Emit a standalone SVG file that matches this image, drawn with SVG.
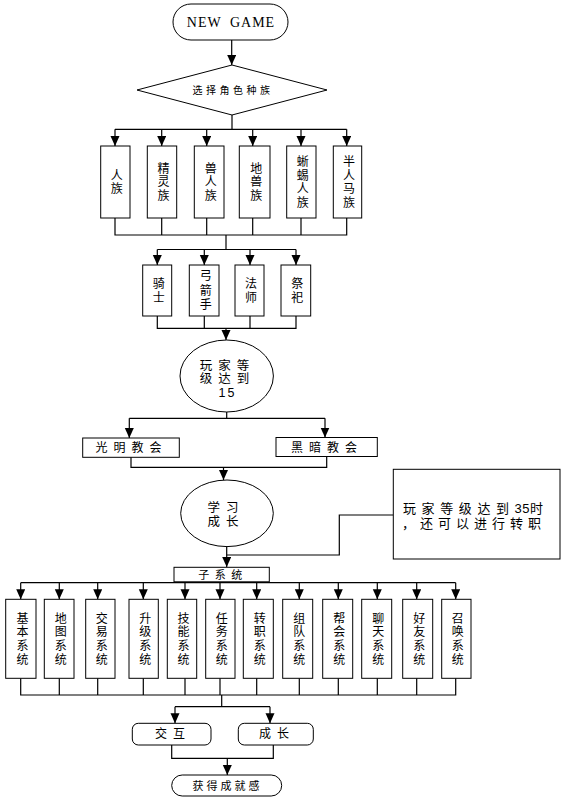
<svg xmlns="http://www.w3.org/2000/svg" width="565" height="802" viewBox="0 0 565 802">
<style>
.s{fill:#fff;stroke:#000;stroke-width:1}
.c{fill:none;stroke:#000;stroke-width:1.2}
.a{marker-end:url(#ah)}
text{font-family:"Liberation Sans","Noto Sans CJK SC",sans-serif;fill:#000;dominant-baseline:central}
.v{font-size:12px;text-anchor:middle;writing-mode:vertical-rl;letter-spacing:1.5px}
.v2{font-size:12px;text-anchor:middle;writing-mode:vertical-rl;letter-spacing:2.5px}
.v3{font-size:12px;text-anchor:middle;writing-mode:vertical-rl;letter-spacing:1.7px}
.h{font-size:12px;text-anchor:middle}
</style>
<defs>
<marker id="ah" markerUnits="userSpaceOnUse" markerWidth="10" markerHeight="11" refX="10" refY="4.5" orient="auto">
<path d="M0,0 L10,4.5 L0,9 z" fill="#000"/>
</marker>
</defs>
<rect width="565" height="802" fill="#fff"/>
<g id="connectors">
<line class="c a" x1="231.7" y1="40" x2="231.7" y2="65"/>
<polyline class="c" points="232,115 232,129.3"/>
<line class="c" x1="115" y1="129.3" x2="346.7" y2="129.3"/>
<line class="c a" x1="115" y1="129.3" x2="115" y2="146"/>
<line class="c a" x1="161.7" y1="129.3" x2="161.7" y2="146"/>
<line class="c a" x1="206.7" y1="129.3" x2="206.7" y2="146"/>
<line class="c a" x1="252.7" y1="129.3" x2="252.7" y2="146"/>
<line class="c a" x1="301" y1="129.3" x2="301" y2="146"/>
<line class="c a" x1="346.7" y1="129.3" x2="346.7" y2="146"/>
<polyline class="c" points="115,218 115,235 346.7,235 346.7,218"/>
<line class="c" x1="161.7" y1="218" x2="161.7" y2="235"/>
<line class="c" x1="206.7" y1="218" x2="206.7" y2="235"/>
<line class="c" x1="252.7" y1="218" x2="252.7" y2="235"/>
<line class="c" x1="301" y1="218" x2="301" y2="235"/>
<line class="c" x1="226" y1="235" x2="226" y2="249.5"/>
<line class="c" x1="157.3" y1="249.5" x2="296" y2="249.5"/>
<line class="c a" x1="157.3" y1="249.5" x2="157.3" y2="265"/>
<line class="c a" x1="204.3" y1="249.5" x2="204.3" y2="265"/>
<line class="c a" x1="250" y1="249.5" x2="250" y2="265"/>
<line class="c a" x1="296" y1="249.5" x2="296" y2="265"/>
<polyline class="c" points="157.3,316 157.3,328.3 296,328.3 296,316"/>
<line class="c" x1="204.3" y1="316" x2="204.3" y2="328.3"/>
<line class="c" x1="250" y1="316" x2="250" y2="328.3"/>
<line class="c a" x1="226" y1="328.3" x2="226" y2="340"/>
<line class="c" x1="226.7" y1="412" x2="226.7" y2="418.3"/>
<line class="c" x1="129.3" y1="418.3" x2="325" y2="418.3"/>
<line class="c a" x1="129.3" y1="418.3" x2="129.3" y2="438"/>
<line class="c a" x1="325" y1="418.3" x2="325" y2="437.5"/>
<polyline class="c" points="131,457 131,467.3 326.7,467.3 326.7,456"/>
<line class="c a" x1="223.5" y1="467.3" x2="223.5" y2="480"/>
<line class="c a" x1="226.7" y1="546.7" x2="226.7" y2="567"/>
<polyline class="c" points="393.3,515 339.3,515 339.3,555 226.7,555"/>
<line class="c" x1="20.7" y1="582.7" x2="455.7" y2="582.7"/>
<line class="c a" x1="20.7" y1="582.7" x2="20.7" y2="599.3"/>
<line class="c a" x1="59.3" y1="582.7" x2="59.3" y2="599.3"/>
<line class="c a" x1="97.7" y1="582.7" x2="97.7" y2="599.3"/>
<line class="c a" x1="143.3" y1="582.7" x2="143.3" y2="599.3"/>
<line class="c a" x1="185" y1="582.7" x2="185" y2="599.3"/>
<line class="c a" x1="220" y1="582.7" x2="220" y2="599.3"/>
<line class="c a" x1="256.7" y1="582.7" x2="256.7" y2="599.3"/>
<line class="c a" x1="299.3" y1="582.7" x2="299.3" y2="599.3"/>
<line class="c a" x1="338.3" y1="582.7" x2="338.3" y2="599.3"/>
<line class="c a" x1="377.3" y1="582.7" x2="377.3" y2="599.3"/>
<line class="c a" x1="416.7" y1="582.7" x2="416.7" y2="599.3"/>
<line class="c a" x1="455.7" y1="582.7" x2="455.7" y2="599.3"/>
<polyline class="c" points="20.7,678.3 20.7,695 455.7,695 455.7,678.3"/>
<line class="c" x1="59.3" y1="678.3" x2="59.3" y2="695"/>
<line class="c" x1="97.7" y1="678.3" x2="97.7" y2="695"/>
<line class="c" x1="143.3" y1="678.3" x2="143.3" y2="695"/>
<line class="c" x1="185" y1="678.3" x2="185" y2="695"/>
<line class="c" x1="220" y1="678.3" x2="220" y2="695"/>
<line class="c" x1="256.7" y1="678.3" x2="256.7" y2="695"/>
<line class="c" x1="299.3" y1="678.3" x2="299.3" y2="695"/>
<line class="c" x1="338.3" y1="678.3" x2="338.3" y2="695"/>
<line class="c" x1="377.3" y1="678.3" x2="377.3" y2="695"/>
<line class="c" x1="416.7" y1="678.3" x2="416.7" y2="695"/>
<line class="c" x1="221.7" y1="695" x2="221.7" y2="706.7"/>
<line class="c" x1="175" y1="706.7" x2="270" y2="706.7"/>
<line class="c a" x1="175" y1="706.7" x2="175" y2="723.3"/>
<line class="c a" x1="270" y1="706.7" x2="270" y2="723.3"/>
<polyline class="c" points="171.7,745 171.7,758.3 273.3,758.3 273.3,745"/>
<line class="c a" x1="227.3" y1="758.3" x2="227.3" y2="775"/>
</g>
<g id="n-newgame">
<rect class="s" x="173" y="4" width="115" height="36" rx="18" ry="18"/>
<text x="231" y="22" style="font-family:'Liberation Serif',serif;font-size:14px;text-anchor:middle;letter-spacing:1px;word-spacing:4px">NEW GAME</text>
</g>
<g id="n-select">
<polygon class="s" points="232,65 327,90 232,115 137,90"/>
<text x="233" y="90" style="font-size:10px;text-anchor:middle;letter-spacing:3.5px">选择角色种族</text>
</g>
<g id="n-race1"><rect class="s" x="100.7" y="146" width="29.3" height="72"/><text class="v" x="115.3" y="182.7">人族</text></g>
<g id="n-race2"><rect class="s" x="147.3" y="146" width="29.4" height="72"/><text class="v" x="162" y="182.7">精灵族</text></g>
<g id="n-race3"><rect class="s" x="194.3" y="146" width="29.7" height="72"/><text class="v" x="209.2" y="182.7">兽人族</text></g>
<g id="n-race4"><rect class="s" x="239.3" y="146" width="30.7" height="72"/><text class="v" x="254.7" y="182.7">地兽族</text></g>
<g id="n-race5"><rect class="s" x="286.7" y="146" width="29.3" height="72"/><text class="v" x="301.3" y="182.7">蜥蜴人族</text></g>
<g id="n-race6"><rect class="s" x="333.3" y="146" width="28.4" height="72"/><text class="v" x="347.5" y="182.7">半人马族</text></g>
<g id="n-class1"><rect class="s" x="142.7" y="265" width="29" height="51"/><text class="v2" x="157.2" y="291.7">骑士</text></g>
<g id="n-class2"><rect class="s" x="189.3" y="265" width="29.7" height="51"/><text class="v2" x="204.2" y="291.7">弓箭手</text></g>
<g id="n-class3"><rect class="s" x="235" y="265" width="29" height="51"/><text class="v2" x="249.5" y="291.7">法师</text></g>
<g id="n-class4"><rect class="s" x="281" y="265" width="29.7" height="51"/><text class="v2" x="295.8" y="291.7">祭祀</text></g>
<g id="n-level15">
<ellipse class="s" cx="226.7" cy="376" rx="46.7" ry="36"/>
<text x="227.5" y="365.5" style="font-size:12.5px;text-anchor:middle;letter-spacing:6px">玩家等</text>
<text x="227.5" y="379" style="font-size:12.5px;text-anchor:middle;letter-spacing:6px">级达到</text>
<text x="227.5" y="392.5" style="font-size:12.5px;text-anchor:middle;letter-spacing:2px">15</text>
</g>
<g id="n-light"><rect class="s" x="82.7" y="438" width="96.6" height="19.3"/><text class="h" x="131.5" y="448" style="letter-spacing:6px">光明教会</text></g>
<g id="n-dark"><rect class="s" x="276" y="437.5" width="101.3" height="19"/><text class="h" x="327" y="447.5" style="letter-spacing:6px">黑暗教会</text></g>
<g id="n-learn">
<ellipse class="s" cx="227" cy="513.3" rx="46.3" ry="33.3"/>
<text x="226" y="507.8" style="font-size:12.5px;text-anchor:middle;letter-spacing:6px">学习</text>
<text x="226" y="521.5" style="font-size:12.5px;text-anchor:middle;letter-spacing:6px">成长</text>
</g>
<g id="n-note">
<rect class="s" x="393.3" y="469.3" width="166.7" height="89.7"/>
<text x="403" y="508.3" style="font-size:13px"><tspan style="letter-spacing:5.6px">玩家等级达到</tspan><tspan style="letter-spacing:0.5px">35时</tspan></text>
<text x="402" y="523.3" style="font-size:13px;letter-spacing:5px">，还可以进行转职</text>
</g>
<g id="n-sub"><rect class="s" x="174" y="567.3" width="95.3" height="14.5"/><text x="223" y="574.5" style="font-size:11px;text-anchor:middle;letter-spacing:5.5px">子系统</text></g>
<g id="n-s1"><rect class="s" x="5.7" y="599.3" width="30.3" height="79"/><text class="v3" x="20.9" y="639.6">基本系统</text></g>
<g id="n-s2"><rect class="s" x="44.3" y="599.3" width="29.7" height="79"/><text class="v3" x="59.2" y="639.6">地图系统</text></g>
<g id="n-s3"><rect class="s" x="85.7" y="599.3" width="29.3" height="79"/><text class="v3" x="100.3" y="639.6">交易系统</text></g>
<g id="n-s4"><rect class="s" x="129" y="599.3" width="29.3" height="79"/><text class="v3" x="143.7" y="639.6">升级系统</text></g>
<g id="n-s5"><rect class="s" x="167.3" y="599.3" width="29.4" height="79"/><text class="v3" x="182" y="639.6">技能系统</text></g>
<g id="n-s6"><rect class="s" x="205.7" y="599.3" width="29.3" height="79"/><text class="v3" x="220.3" y="639.6">任务系统</text></g>
<g id="n-s7"><rect class="s" x="243.3" y="599.3" width="30" height="79"/><text class="v3" x="258.3" y="639.6">转职系统</text></g>
<g id="n-s8"><rect class="s" x="282.7" y="599.3" width="30" height="79"/><text class="v3" x="297.7" y="639.6">组队系统</text></g>
<g id="n-s9"><rect class="s" x="322.7" y="599.3" width="30" height="79"/><text class="v3" x="337.7" y="639.6">帮会系统</text></g>
<g id="n-s10"><rect class="s" x="361.7" y="599.3" width="30" height="79"/><text class="v3" x="376.7" y="639.6">聊天系统</text></g>
<g id="n-s11"><rect class="s" x="402.7" y="599.3" width="30" height="79"/><text class="v3" x="417.7" y="639.6">好友系统</text></g>
<g id="n-s12"><rect class="s" x="441.7" y="599.3" width="29.3" height="79"/><text class="v3" x="456.3" y="639.6">召唤系统</text></g>
<g id="n-interact"><rect class="s" x="132.3" y="723.3" width="78.7" height="21.7" rx="6" ry="6"/><text class="h" x="173" y="734" style="letter-spacing:6px">交互</text></g>
<g id="n-grow"><rect class="s" x="238.3" y="723.3" width="75" height="21.7" rx="6" ry="6"/><text class="h" x="277" y="734" style="letter-spacing:6px">成长</text></g>
<g id="n-achieve"><rect class="s" x="171.7" y="775" width="110" height="21" rx="10.5" ry="10.5"/><text x="227.5" y="786" style="font-size:11px;text-anchor:middle;letter-spacing:3px">获得成就感</text></g>
</svg>
